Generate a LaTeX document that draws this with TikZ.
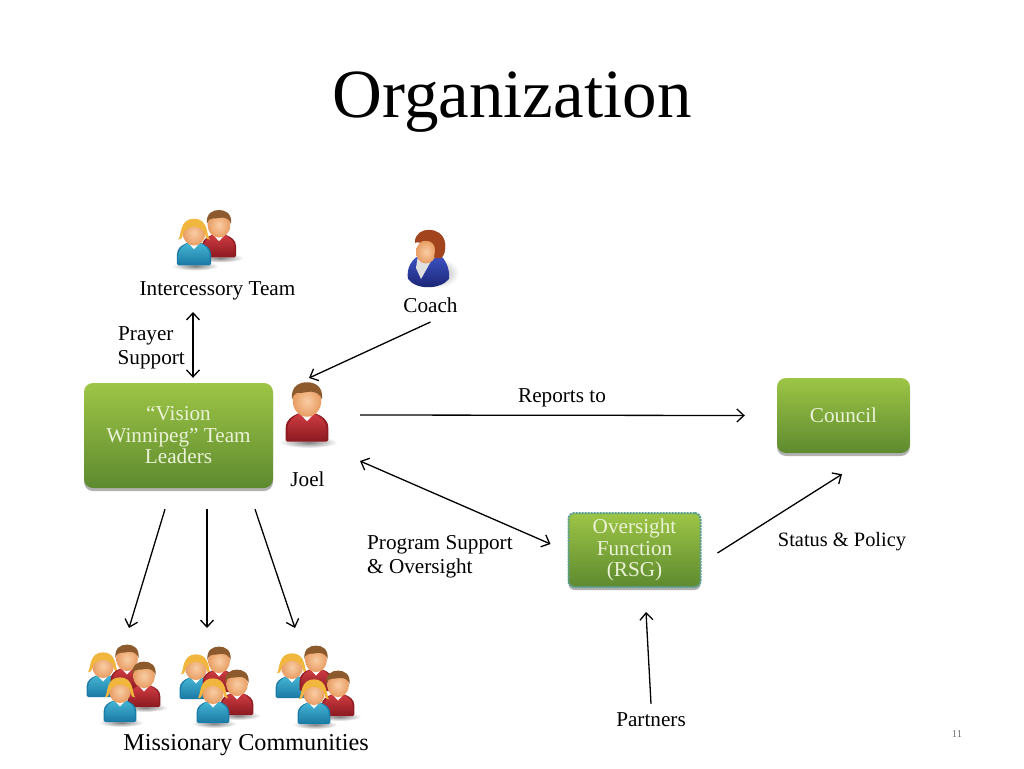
\documentclass[tikz,border=0pt]{standalone}
\usepackage{fontspec}
\setmainfont{Liberation Serif}
\usetikzlibrary{arrows.meta,shadows,calc}
\definecolor{boxtop}{HTML}{9DC546}
\definecolor{boxbot}{HTML}{5E8A2F}
\definecolor{boxtext}{HTML}{EAF3D6}
\definecolor{dotline}{HTML}{5B9E96}
\definecolor{manlight}{HTML}{CE3B42}
\definecolor{mandark}{HTML}{8E1B22}
\definecolor{womanlight}{HTML}{45B5D3}
\definecolor{womandark}{HTML}{1C7BA6}
\definecolor{skinlight}{HTML}{F9CDA4}
\definecolor{skindark}{HTML}{E89C62}
\definecolor{brownhair}{HTML}{8C5A2C}
\definecolor{blondhair}{HTML}{F0B63E}
\definecolor{auburn}{HTML}{A2451F}
\definecolor{navylight}{HTML}{3F55C8}
\definecolor{navydark}{HTML}{18226E}
\tikzset{
  txt/.style={inner sep=0pt,font=\fontsize{21.2}{24}\selectfont,text=black},
  lefttxt/.style={txt,anchor=west,align=left},
  greenbox/.style={rectangle,rounded corners=9pt,top color=boxtop,bottom color=boxbot,
    text=boxtext,align=center,inner sep=0pt,font=\fontsize{21.2}{21.5}\selectfont,
    drop shadow={shadow xshift=0pt,shadow yshift=-3pt,opacity=.3,fill=black}},
  arr/.style={-{Straight Barb[length=7pt,width=13pt]},line width=1.3pt,black},
  biarr/.style={{Straight Barb[length=7pt,width=13pt]}-{Straight Barb[length=7pt,width=13pt]},line width=1.3pt,black}
}
\newcommand{\figshadow}[3]{%
  \begin{scope}[shift={(#1,#2)},x=#3pt,y=-#3pt]
    \shade[inner color=black!50,outer color=white] (.1,2.75) ellipse [x radius=1.95,y radius=.38];
  \end{scope}}
\newcommand{\figface}{%
  \shade[inner color=skinlight,outer color=skindark] (0,0) ellipse [x radius=.95,y radius=1.05];}
\newcommand{\figbody}[2]{%
    \fill[#2,rounded corners=1.5pt] (-1.42,2.7) -- (-1.42,1.9) .. controls (-1.42,1.25) and (-1,1) .. (-.5,.8) -- (.5,.8) .. controls (1,1) and (1.42,1.25) .. (1.42,1.9) -- (1.42,2.7) -- cycle;
    \shade[top color=#1,bottom color=#2] (-1.3,2.6) -- (-1.3,1.9) .. controls (-1.3,1.3) and (-.9,1.05) .. (-.5,.85) -- (.5,.85) .. controls (.9,1.05) and (1.3,1.3) .. (1.3,1.9) -- (1.3,2.6) -- cycle;
    \fill[white] (-.55,.75) -- (0,1.35) -- (.55,.75) -- cycle;}
\newcommand{\figman}[3]{%
  \begin{scope}[shift={(#1,#2)},x=#3pt,y=-#3pt]
    \figbody{manlight}{mandark}
    \figface
    \fill[brownhair] (-1,-.1) .. controls (-1.1,-1) and (-.5,-1.25) .. (0,-1.25) .. controls (.5,-1.25) and (1.1,-1) .. (1,-.1) .. controls (.9,-.45) and (.6,-.6) .. (.3,-.62) .. controls (0,-.65) and (-.3,-.5) .. (-.5,-.55) .. controls (-.75,-.6) and (-.9,-.4) .. (-1,-.1) -- cycle;
  \end{scope}}
\newcommand{\figwoman}[3]{%
  \begin{scope}[shift={(#1,#2)},x=#3pt,y=-#3pt]
    \figbody{womanlight}{womandark}
    \figface
    \fill[blondhair] (-1.32,.55) .. controls (-1.02,.2) and (-1.25,-1.18) .. (0,-1.18) .. controls (1.25,-1.18) and (1.02,.2) .. (1.32,.55) .. controls (1.15,.62) and (.97,.45) .. (.93,.1) .. controls (.85,-.3) and (.3,-.55) .. (0,-.55) .. controls (-.3,-.55) and (-.85,-.3) .. (-.93,.1) .. controls (-.97,.45) and (-1.15,.62) .. (-1.32,.55) -- cycle;
  \end{scope}}
\newcommand{\figcoach}{%
  \begin{scope}
    \shade[inner color=black!38,outer color=white] (436,273) ellipse [x radius=23,y radius=15];
    \shade[top color=navylight,bottom color=navydark] (408,279) .. controls (406,268) and (412,258) .. (422,254) -- (438,254) .. controls (446,258) and (450,270) .. (449,279) .. controls (440,290) and (416,290) .. (408,279) -- cycle;
    \fill[white!88!black] (418,255) -- (434,256) -- (421,279) -- (416,268) -- cycle;
    \fill[auburn] (415,242) .. controls (415,226) and (442,225) .. (445,243) .. controls (446,250) and (444,256) .. (441,258) -- (430,258) -- (430,244) -- cycle;
    \shade[inner color=skinlight,outer color=skindark] (426,252) ellipse [x radius=10,y radius=11.5];
    \fill[auburn] (415,243) .. controls (415,227) and (442,225) .. (445,243) .. controls (446,250) and (444,256) .. (441,258) -- (434,257) .. controls (436,250) and (435,245) .. (432,242) .. controls (427,240) and (420,240) .. (415,243) -- cycle;
  \end{scope}}
\begin{document}
\begin{tikzpicture}[x=1pt,y=-1pt]
\useasboundingbox (0,0) rectangle (1024,768);
\fill[white] (0,0) rectangle (1024,768);

\node[inner sep=0pt,font=\fontsize{69}{72}\selectfont] (title) at (512,102) {Organization};

% people
\figshadow{219}{225}{12}\figshadow{194}{233}{12}
\figman{219}{225}{12}
\figwoman{194}{233}{12}
\figcoach
\figshadow{307}{401}{15}
\figman{307}{401}{15}

\figshadow{144}{676}{11.5}\figshadow{120}{691}{11.5}
\figwoman{103}{666}{11.5}\figman{127}{659}{11.5}\figman{144}{676}{11.5}\figwoman{120}{691}{11.5}
\figshadow{237}{684}{11.5}\figshadow{213}{692}{11.5}
\figwoman{196}{668}{11.5}\figman{219}{661}{11.5}\figman{237}{684}{11.5}\figwoman{213}{692}{11.5}
\figshadow{338}{685}{11.5}\figshadow{314}{693}{11.5}
\figwoman{292}{667}{11.5}\figman{316}{660}{11.5}\figman{338}{685}{11.5}\figwoman{314}{693}{11.5}

% boxes
\node[greenbox,minimum width=189pt,minimum height=105pt] (leaders) at (178.5,435.5) {“Vision\\Winnipeg” Team\\Leaders};
\node[greenbox,minimum width=133pt,minimum height=75pt,text depth=0pt] (council) at (843.5,415.5) {\raisebox{1pt}{Council}};
\node[greenbox,minimum width=132pt,minimum height=74pt,rounded corners=6pt,draw=dotline,densely dotted,line width=2pt] (rsg) at (634.5,550) {\raisebox{-1.5pt}{Oversight}\\\raisebox{-1.5pt}{Function}\\\raisebox{-1.5pt}{(RSG)}};

% labels
\node[txt] (team) at (217.5,291) {Intercessory Team};
\node[txt] (coach) at (430.5,305.5) {Coach};
\node[lefttxt] (prayer) at (117.5,347.5) {\hspace{.5pt}Prayer\\Support};
\node[txt] (joel) at (307.5,479.5) {Joel};
\node[txt] (reports) at (562,397.5) {Reports to};
\node[lefttxt] (program) at (367,557) {Program Support\\\& Oversight};
\node[txt,font=\fontsize{20.4}{24}\selectfont] (status) at (842,542) {Status \& Policy};
\node[txt] (partners) at (651,720) {Partners};
\node[inner sep=0pt,font=\fontsize{24.2}{28}\selectfont] (missionary) at (246,745) {Missionary Communities};
\node[inner sep=0pt,font=\fontsize{10.5}{12}\selectfont,text=black!55] (pagenum) at (957,734) {11};

% free ends
\coordinate (joelright) at (360,415);
\coordinate (joelbelow) at (360,461);
\coordinate (joelabove) at (309,378);
\coordinate (commA) at (129,628);
\coordinate (commB) at (207,628);
\coordinate (commC) at (295,628);

% connectors
\draw[biarr] (193,312) -- ($(leaders.north)+(14.5,-5)$);
\draw[arr] (coach.south |- 431,322) -- (joelabove);
\draw[arr] (joelright) -- ($(council.west)+(-32,0)$);
\draw[biarr] (joelbelow) -- ($(rsg.west)+(-17,-6)$);
\draw[arr] ($(rsg.east)+(16,3)$) -- ($(council.south)+(-1.5,21)$);
\draw[arr] ($(partners.north)+(0,-9)$) -- ($(rsg.south)+(11.5,24)$);
\draw[arr] ($(leaders.south)+(-13.5,21)$) -- (commA);
\draw[arr] ($(leaders.south)+(28.5,21)$) -- (commB);
\draw[arr] ($(leaders.south)+(76.5,21)$) -- (commC);
\end{tikzpicture}
\end{document}
